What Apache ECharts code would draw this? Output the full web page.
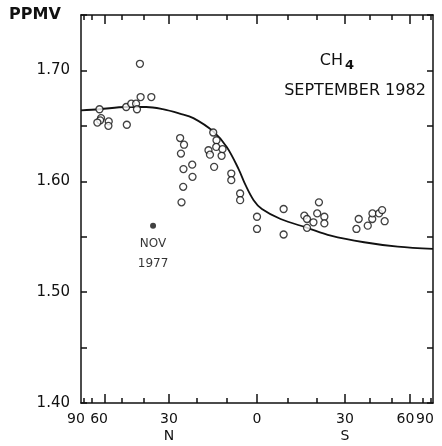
<!DOCTYPE html>
<html><head><meta charset="utf-8">
<script src="https://cdn.jsdelivr.net/npm/echarts@6/dist/echarts.min.js"></script>
<style>html,body{margin:0;padding:0;background:#fff}#c{width:442px;height:446px}</style>
</head><body><div id="c"></div>
<script>
// Observations (latitude in degrees, north positive; CH4 in ppmv)
const obsLat = [41.7, 41.4, 36.9, 63.5, 48.0, 45.6, 43.4, 43.0, 62.4, 63.0, 65.1, 57.4, 57.6, 47.7,
  25.9, 24.5, 25.6, 24.7, 21.6, 21.5, 24.8, 25.4, 14.4, 13.3, 13.4, 16.0, 15.5, 11.3, 11.6, 14.1, 8.4, 8.4, 5.5, 5.5,
  0.0, 0.0, -8.7, -8.7, -15.6, -16.5, -16.5, -18.7, -20.0, -20.6, -22.5, -22.5,
  -34.4, -35.3, -39.0, -40.9, -41.0, -43.9, -45.3, -46.5];
const obsVal = [1.706, 1.676, 1.676, 1.665, 1.667, 1.670, 1.670, 1.665, 1.657, 1.655, 1.653, 1.654, 1.650, 1.651,
  1.639, 1.633, 1.625, 1.611, 1.615, 1.604, 1.595, 1.581, 1.644, 1.637, 1.631, 1.628, 1.624, 1.629, 1.623, 1.613, 1.607, 1.601, 1.589, 1.583,
  1.568, 1.557, 1.575, 1.552, 1.569, 1.566, 1.558, 1.563, 1.571, 1.581, 1.568, 1.562,
  1.557, 1.566, 1.560, 1.566, 1.571, 1.571, 1.574, 1.564];
// Fitted curve
const fitLat = [90, 63.5, 48, 39, 32.4, 26, 21.2, 14.4, 9.9, 6.0, 3.8, 1.1, -1.6, -7.7, -16.6, -24.8, -37.5, -53.1, -90];
const fitVal = [1.664, 1.665, 1.667, 1.667, 1.665, 1.661, 1.657, 1.645, 1.631, 1.611, 1.597, 1.583, 1.575, 1.566, 1.558, 1.551, 1.545, 1.541, 1.539];
// Nov 1977 point
const refLat = [36.2];
const refVal = [1.560];
// Axis ticks and labels
const tickLat = [80, 70, 60, 50, 40, 30, 20, 10, 0, -10, -20, -30, -40, -50, -60, -70, -80];
const majorLat = [60, 30, 0, -30, -60];
const innerLabelLat = [60, 30, 0, -30, -60];
const poleLabelLat = [90, -90];
const labelText = {'90': '{n90|90}', '60': '{n60|60}', '30': '30\nN', '0': '0', '-30': '30\nS', '-60': '{s60|60}', '-90': '{s90|90}'};
const yMin = 1.40, yMax = 1.75, yStep = 0.05;

const toX = lat => -Math.sin(lat * Math.PI / 180);
const toLat = v => String(Math.round(-Math.asin(Math.max(-1, Math.min(1, v))) * 180 / Math.PI));
const ink = '#111';
const font = 'DejaVu Sans';

const chart = echarts.init(document.getElementById('c'));
const baseX = {type: 'value', min: -1, max: 1, splitLine: {show: false}};
const richLab = (p) => ({fontFamily: font, fontSize: 14, color: ink, lineHeight: 17, padding: p});
const rich = {n90: richLab([0, 10, 0, 0]), n60: richLab([0, 11, 0, 0]), s60: richLab([0, 8, 0, 0]), s90: richLab([0, 16, 0, 0])};
const labelBase = {show: true, showMinLabel: true, showMaxLabel: true, hideOverlap: false,
  color: ink, fontFamily: font, fontSize: 14, lineHeight: 17, margin: 8,
  formatter: v => labelText[toLat(v)] || '', rich: rich};
chart.setOption({
  animation: false,
  backgroundColor: '#fff',
  grid: {left: 81, right: 9, top: 15, bottom: 43, containLabel: false, outerBoundsMode: 'none'},
  xAxis: [
    Object.assign({}, baseX, {position: 'bottom',
      axisLine: {show: true, onZero: false, lineStyle: {color: ink, width: 1.5}},
      axisTick: {show: true, inside: true, length: 9, customValues: majorLat.map(toX), lineStyle: {color: ink, width: 1.5}},
      axisLabel: Object.assign({}, labelBase, {customValues: innerLabelLat.map(toX)})}),
    Object.assign({}, baseX, {position: 'bottom',
      axisLine: {show: false, onZero: false},
      axisTick: {show: true, inside: true, length: 5, customValues: tickLat.map(toX), lineStyle: {color: ink, width: 1.5}},
      axisLabel: Object.assign({}, labelBase, {customValues: poleLabelLat.map(toX)})}),
    Object.assign({}, baseX, {position: 'top',
      axisLine: {show: true, onZero: false, lineStyle: {color: ink, width: 1.5}},
      axisTick: {show: true, inside: true, length: 9, customValues: majorLat.map(toX), lineStyle: {color: ink, width: 1.5}},
      axisLabel: {show: false}}),
    Object.assign({}, baseX, {position: 'top',
      axisLine: {show: false, onZero: false},
      axisTick: {show: true, inside: true, length: 5, customValues: tickLat.map(toX), lineStyle: {color: ink, width: 1.5}},
      axisLabel: {show: false}})
  ],
  yAxis: [
    {type: 'value', min: yMin, max: yMax, interval: yStep, position: 'left',
      splitLine: {show: false},
      axisLine: {show: true, onZero: false, lineStyle: {color: ink, width: 1.5}},
      axisTick: {show: true, inside: true, length: 6, lineStyle: {color: ink, width: 1.5}},
      axisLabel: {color: ink, fontFamily: font, fontSize: 15, margin: 11,
        formatter: v => (Math.round(v * 100) % 10 === 0 && v < yMax - 1e-6) ? v.toFixed(2) : ''}},
    {type: 'value', min: yMin, max: yMax, interval: yStep, position: 'right',
      splitLine: {show: false},
      axisLine: {show: true, onZero: false, lineStyle: {color: ink, width: 1.5}},
      axisTick: {show: true, inside: true, length: 6, lineStyle: {color: ink, width: 1.5}},
      axisLabel: {show: false}}
  ],
  graphic: [
    {type: 'text', x: 9, y: 15, style: {text: 'PPMV', font: 'bold 16px "DejaVu Sans"', fill: ink, textAlign: 'left', textVerticalAlign: 'middle'}},
    {type: 'text', x: 343, y: 61, style: {text: 'CH', font: '16px "DejaVu Sans"', fill: ink, textAlign: 'right', textVerticalAlign: 'middle'}},
    {type: 'text', x: 345, y: 66, style: {text: '4', font: 'bold 13px "DejaVu Sans"', fill: ink, textAlign: 'left', textVerticalAlign: 'middle'}},
    {type: 'text', x: 355, y: 91, style: {text: 'SEPTEMBER 1982', font: '16px "DejaVu Sans"', fill: ink, textAlign: 'center', textVerticalAlign: 'middle'}}
  ],
  series: [
    {type: 'line', xAxisIndex: 0, yAxisIndex: 0, smooth: 0.35, showSymbol: false, z: 2,
      lineStyle: {color: ink, width: 1.8},
      data: fitLat.map((l, i) => [toX(l), fitVal[i]])},
    {type: 'scatter', xAxisIndex: 0, yAxisIndex: 0, symbol: 'circle', symbolSize: 7, z: 3,
      itemStyle: {color: '#fff', borderColor: ink, borderWidth: 1.3},
      data: obsLat.map((l, i) => [toX(l), obsVal[i]])},
    {type: 'scatter', xAxisIndex: 0, yAxisIndex: 0, symbol: 'circle', symbolSize: 6, z: 3,
      itemStyle: {color: ink},
      label: {show: true, position: 'bottom', distance: 5, formatter: 'NOV\n1977', color: '#000', fontFamily: font, fontSize: 12, lineHeight: 20},
      data: refLat.map((l, i) => [toX(l), refVal[i]])}
  ]
});
</script></body></html>
